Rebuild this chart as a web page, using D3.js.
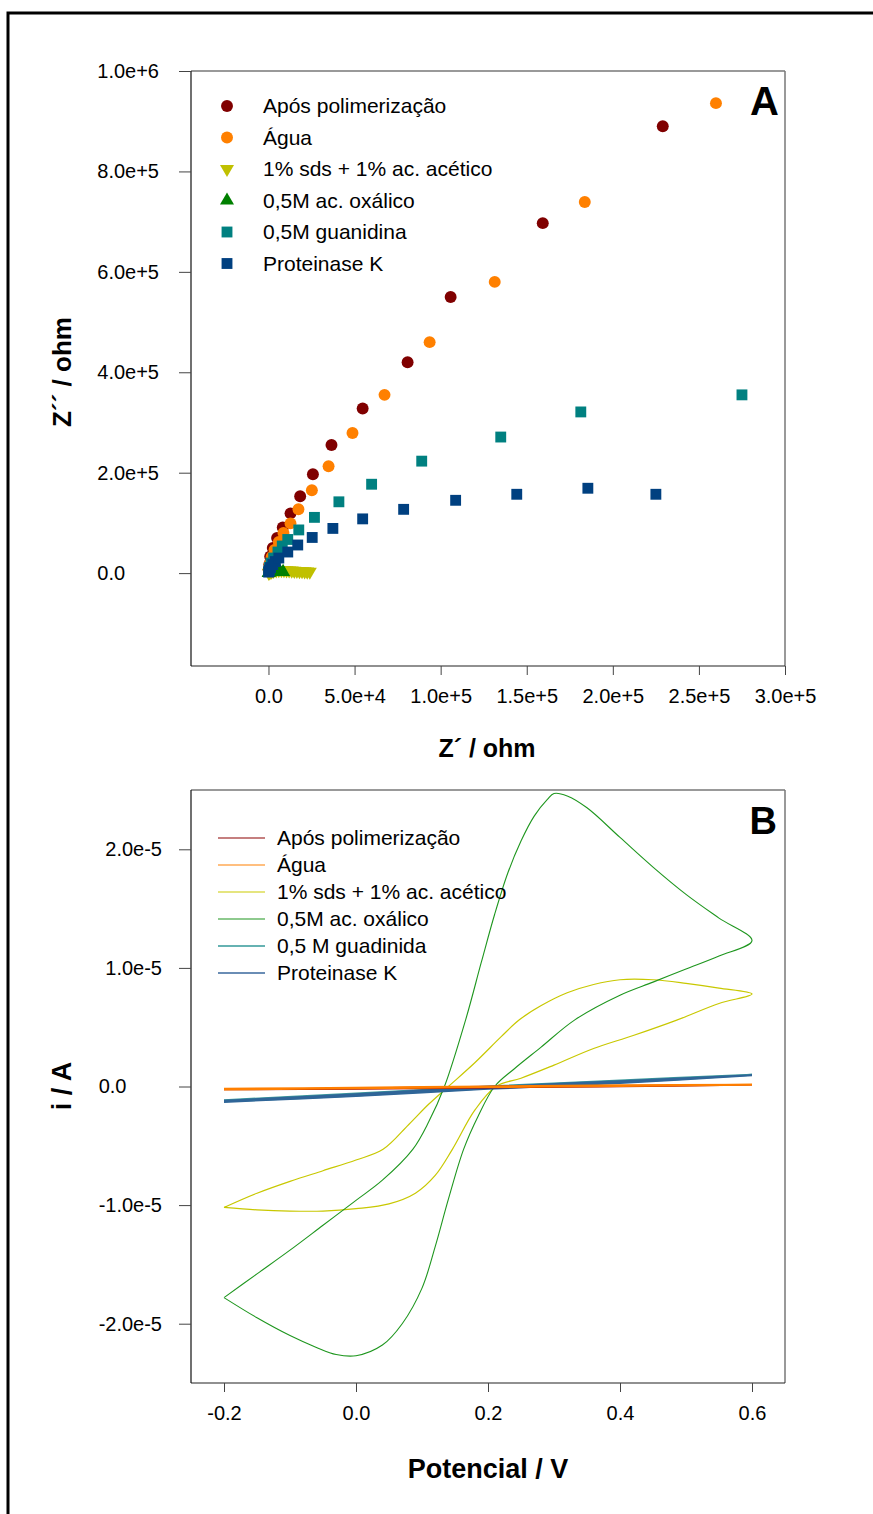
<!DOCTYPE html>
<html>
<head>
<meta charset="utf-8">
<script src="https://cdn.jsdelivr.net/npm/d3@7"></script>
<style>
  body { margin: 0; background: #fff; }
  svg { display: block; font-family: "Liberation Sans", Arial, sans-serif; }
  .tick text { font-size: 20px; fill: #000; }
  .tick line { stroke: #444; }
</style>
</head>
<body>
<div class="chart"></div>
<script>
// ---- Panel A : Nyquist (Z' , Z'') ----
var seriesA = ["Após polimerização", "Água", "1% sds + 1% ac. acético", "0,5M ac. oxálico", "0,5M guanidina", "Proteinase K"];

var aposX = [150, 500, 1000, 2500, 5000, 8300, 12800, 18400, 25800, 36600, 54700, 80800, 105800, 159300, 229000];
var aposY = [6000, 17000, 33000, 50000, 70000, 91000, 119000, 153000, 197000, 255000, 328000, 420000, 550000, 697000, 890000];

var aguaX = [200, 700, 1800, 3500, 6000, 8700, 12800, 17400, 25200, 34900, 48800, 67400, 93600, 131400, 183700, 259900];
var aguaY = [7000, 18000, 32000, 46000, 62000, 80000, 99000, 127000, 165000, 213000, 279000, 355000, 460000, 580000, 739000, 936000];

var sdsX = [200, 800, 1800, 3000, 4500, 6000, 7500, 9000, 10500, 12000, 13500, 15000, 16500, 18000, 19500, 21000, 22500, 24000];
var sdsY = [500, 1500, 3000, 4500, 5500, 6000, 6000, 5800, 5500, 5200, 4900, 4600, 4300, 4000, 3700, 3400, 3100, 2800];

var oxalX = [100, 300, 700, 1300, 2200, 3500, 5000, 6800, 8500];
var oxalY = [500, 1000, 1600, 2100, 2500, 2700, 2800, 2700, 2400];

var guanX = [150, 600, 1500, 3000, 5500, 8000, 11200, 17600, 26700, 40900, 59900, 89000, 134900, 181400, 275000];
var guanY = [4000, 11000, 20000, 30000, 42000, 54000, 67000, 86000, 111000, 142000, 177000, 223000, 271000, 321000, 355000];

var protX = [100, 500, 1200, 2500, 4000, 6000, 11200, 17000, 25400, 37400, 54700, 78500, 108700, 144200, 185500, 225000];
var protY = [2000, 6000, 11000, 17000, 23000, 30000, 42000, 56000, 71000, 89000, 108000, 127000, 145000, 157000, 169000, 157000];

var xTicksA = [0, 50000, 100000, 150000, 200000, 250000, 300000];
var xTickLabelsA = ["0.0", "5.0e+4", "1.0e+5", "1.5e+5", "2.0e+5", "2.5e+5", "3.0e+5"];
var yTicksA = [0, 200000, 400000, 600000, 800000, 1000000];
var yTickLabelsA = ["0.0", "2.0e+5", "4.0e+5", "6.0e+5", "8.0e+5", "1.0e+6"];

// ---- Panel B : voltammograms (V, i in 1e-5 A) ----
var seriesB = ["Após polimerização", "Água", "1% sds + 1% ac. acético", "0,5M ac. oxálico", "0,5 M guadinida", "Proteinase K"];

var aposV = [-0.2, 0.0, 0.2, 0.4, 0.6, 0.4, 0.2, 0.0, -0.2];
var aposI = [-0.025, -0.015, 0.0, 0.005, 0.015, 0.0, -0.01, -0.02, -0.025];

var aguaV = [-0.2, 0.0, 0.2, 0.4, 0.6, 0.4, 0.2, 0.0, -0.2];
var aguaI = [-0.02, -0.01, 0.0, 0.01, 0.015, 0.005, -0.005, -0.015, -0.025];

var sdsV = [-0.2, -0.15, -0.1, -0.05, 0.0, 0.041, 0.08, 0.11, 0.14, 0.18, 0.22, 0.247, 0.28, 0.32, 0.36, 0.4, 0.45, 0.5, 0.55, 0.6,
            0.55, 0.486, 0.42, 0.36, 0.3, 0.25, 0.212, 0.18, 0.146, 0.12, 0.09, 0.05, 0.0, -0.05, -0.1, -0.15, -0.2];
var sdsI = [-1.02, -0.9, -0.8, -0.71, -0.62, -0.53, -0.32, -0.15, 0.0, 0.2, 0.42, 0.56, 0.68, 0.79, 0.86, 0.9, 0.9, 0.87, 0.83, 0.78,
            0.7, 0.56, 0.43, 0.32, 0.18, 0.07, 0.0, -0.2, -0.53, -0.75, -0.9, -0.99, -1.03, -1.05, -1.05, -1.04, -1.02];

var oxalV = [-0.2, -0.15, -0.1, -0.05, 0.0, 0.04, 0.086, 0.11, 0.134, 0.166, 0.19, 0.21, 0.23, 0.25, 0.27, 0.29, 0.3, 0.32, 0.35, 0.4, 0.45, 0.5, 0.55, 0.6,
             0.55, 0.5, 0.45, 0.4, 0.331, 0.28, 0.24, 0.21, 0.185, 0.163, 0.14, 0.12, 0.1, 0.07, 0.04, 0.0, -0.03, -0.06, -0.1, -0.15, -0.2];
var oxalI = [-1.78, -1.58, -1.38, -1.17, -0.96, -0.79, -0.53, -0.3, 0.0, 0.56, 1.05, 1.45, 1.8, 2.07, 2.28, 2.42, 2.47, 2.45, 2.35, 2.1, 1.85, 1.62, 1.42, 1.23,
             1.1, 0.99, 0.88, 0.77, 0.56, 0.33, 0.15, 0.0, -0.25, -0.53, -0.95, -1.35, -1.7, -2.0, -2.18, -2.27, -2.26, -2.2, -2.1, -1.95, -1.78];

var guanV = [-0.2, 0.0, 0.2, 0.4, 0.6, 0.4, 0.2, 0.0, -0.2];
var guanI = [-0.115, -0.06, 0.0, 0.05, 0.1, 0.035, -0.015, -0.075, -0.125];

var protV = [-0.2, 0.0, 0.2, 0.4, 0.6, 0.4, 0.2, 0.0, -0.2];
var protI = [-0.12, -0.065, -0.005, 0.045, 0.095, 0.03, -0.02, -0.08, -0.13];

var xTicksB = [-0.2, 0.0, 0.2, 0.4, 0.6];
var xTickLabelsB = ["-0.2", "0.0", "0.2", "0.4", "0.6"];
var yTicksB = [-2, -1, 0, 1, 2];
var yTickLabelsB = ["-2.0e-5", "-1.0e-5", "0.0", "1.0e-5", "2.0e-5"];

var markerColors = ["#800000", "#ff8000", "#c0c000", "#008000", "#008080", "#004080"];
var lineColors = ["#a00000", "#ff7f00", "#c8c800", "#1e961e", "#3c9c9c", "#2f6598"];
var markerShapes = ["circle", "circle", "down", "up", "square", "square"];

var svgWidth = 873, svgHeight = 1514;
var svg = d3.select(".chart").append("svg")
  .attr("width", svgWidth)
  .attr("height", svgHeight);

// outer frame (runs off the right and bottom of the picture)
svg.append("rect")
  .attr("x", 8).attr("y", 13)
  .attr("width", 920).attr("height", 1600)
  .attr("fill", "none").attr("stroke", "#000").attr("stroke-width", 3);

var boxA = {left: 191, right: 785, top: 71, bottom: 666};
var boxB = {left: 191, right: 785, top: 790, bottom: 1383};

function frame(box) {
  svg.append("line").attr("x1", box.left).attr("x2", box.right).attr("y1", box.top).attr("y2", box.top)
    .attr("stroke", "#777").attr("stroke-width", 1.5);
  svg.append("line").attr("x1", box.right).attr("x2", box.right).attr("y1", box.top).attr("y2", box.bottom)
    .attr("stroke", "#777").attr("stroke-width", 1.5);
  svg.append("line").attr("x1", box.left).attr("x2", box.right).attr("y1", box.bottom).attr("y2", box.bottom)
    .attr("stroke", "#222").attr("stroke-width", 1.2);
  svg.append("line").attr("x1", box.left).attr("x2", box.left).attr("y1", box.top).attr("y2", box.bottom)
    .attr("stroke", "#111").attr("stroke-width", 1.2);
}

// y labels: long ones end at labelEnd, "0.0" starts where the longest starts
function axes(box, x, y, xt, xl, yt, yl, labelEnd) {
  var gx = svg.append("g")
    .attr("transform", `translate(0, ${box.bottom})`)
    .call(d3.axisBottom(x).tickValues(xt).tickSize(9).tickPadding(14)
      .tickFormat((d, i) => xl[i]));
  gx.select(".domain").remove();
  var gy = svg.append("g")
    .attr("transform", `translate(${box.left}, 0)`)
    .call(d3.axisLeft(y).tickValues(yt).tickSize(12).tickPadding(11)
      .tickFormat((d, i) => yl[i]));
  gy.select(".domain").remove();
  var texts = gy.selectAll(".tick text").attr("x", labelEnd - box.left);
  var minStart = d3.min(texts.nodes(), n => n.getBBox().x);
  texts.filter(function() { return this.textContent === "0.0"; })
    .attr("text-anchor", "start").attr("x", minStart);
}

// ---------- Panel A ----------
var xA = d3.scaleLinear().domain([-45000, 300000]).range([boxA.left, boxA.right]);
var yA = d3.scaleLinear().domain([-185000, 1000000]).range([boxA.bottom, boxA.top]);

frame(boxA);
axes(boxA, xA, yA, xTicksA, xTickLabelsA, yTicksA, yTickLabelsA, 159);

var symbols = {
  circle: d3.symbol().type(d3.symbolCircle).size(112),
  square: d3.symbol().type(d3.symbolSquare).size(118),
  up: d3.symbol().type(d3.symbolTriangle).size(85),
  down: d3.symbol().type(d3.symbolTriangle).size(85)
};

function pts(xs, ys) { return xs.map((v, i) => [v, ys[i]]); }
var dataA = [pts(aposX, aposY), pts(aguaX, aguaY), pts(sdsX, sdsY), pts(oxalX, oxalY), pts(guanX, guanY), pts(protX, protY)];
// draw order: lower series first so the clusters overlap as in the figure
var orderA = [2, 3, 0, 1, 4, 5];

orderA.forEach(function(k) {
  svg.append("g").selectAll("path")
    .data(dataA[k])
    .enter()
    .append("path")
    .attr("d", symbols[markerShapes[k]])
    .attr("transform", d => `translate(${xA(d[0])}, ${yA(d[1])})` + (markerShapes[k] === "down" ? " rotate(180)" : ""))
    .attr("fill", markerColors[k]);
});

// legend A
var legA = svg.append("g");
seriesA.forEach(function(name, i) {
  var yy = 106 + i * 31.5;
  legA.append("path")
    .attr("d", symbols[markerShapes[i]])
    .attr("transform", `translate(227, ${yy})` + (markerShapes[i] === "down" ? " rotate(180)" : ""))
    .attr("fill", markerColors[i]);
  legA.append("text")
    .attr("x", 263).attr("y", yy + 7)
    .attr("font-size", "21px")
    .text(name);
});

svg.append("text").attr("x", 779).attr("y", 115).attr("text-anchor", "end")
  .attr("font-size", "40px").attr("font-weight", "bold").text("A");

svg.append("text").attr("x", 487).attr("y", 757).attr("text-anchor", "middle")
  .attr("font-size", "25px").attr("font-weight", "bold").text("Z´ / ohm");
svg.append("text").attr("transform", "translate(71, 372) rotate(-90)").attr("text-anchor", "middle")
  .attr("font-size", "26px").attr("font-weight", "bold").text("Z´´ / ohm");

// ---------- Panel B ----------
var xB = d3.scaleLinear().domain([-0.25, 0.65]).range([boxB.left, boxB.right]);
var yB = d3.scaleLinear().domain([-2.5, 2.5]).range([boxB.bottom, boxB.top]);

frame(boxB);
axes(boxB, xB, yB, xTicksB, xTickLabelsB, yTicksB, yTickLabelsB, 162);

var dataB = [pts(aposV, aposI), pts(aguaV, aguaI), pts(sdsV, sdsI), pts(oxalV, oxalI), pts(guanV, guanI), pts(protV, protI)];
var lineB = d3.line().x(d => xB(d[0])).y(d => yB(d[1])).curve(d3.curveCatmullRom.alpha(0.5));
var orderB = [2, 3, 4, 5, 0, 1];
var widthB = [1.6, 2, 1.2, 1.1, 2, 2];

orderB.forEach(function(k) {
  svg.append("path")
    .datum(dataB[k])
    .attr("d", lineB)
    .attr("fill", "none")
    .attr("stroke", lineColors[k])
    .attr("stroke-width", widthB[k]);
});

var legB = svg.append("g");
var legLineColors = ["#8b0000", "#ff8000", "#cccc00", "#1e961e", "#66b2b2", "#6a8db5"];
seriesB.forEach(function(name, i) {
  var yy = 838 + i * 27;
  legB.append("line")
    .attr("x1", 218).attr("x2", 265).attr("y1", yy).attr("y2", yy)
    .attr("stroke", legLineColors[i]).attr("stroke-width", i > 3 ? 1.8 : 1.2);
  legB.append("text")
    .attr("x", 277).attr("y", yy + 7)
    .attr("font-size", "21px")
    .text(name);
});

svg.append("text").attr("x", 777).attr("y", 834).attr("text-anchor", "end")
  .attr("font-size", "38px").attr("font-weight", "bold").text("B");

svg.append("text").attr("x", 488).attr("y", 1478).attr("text-anchor", "middle")
  .attr("font-size", "27px").attr("font-weight", "bold").text("Potencial / V");
svg.append("text").attr("transform", "translate(71, 1086) rotate(-90)").attr("text-anchor", "middle")
  .attr("font-size", "27px").attr("font-weight", "bold").text("i / A");
</script>
</body>
</html>
